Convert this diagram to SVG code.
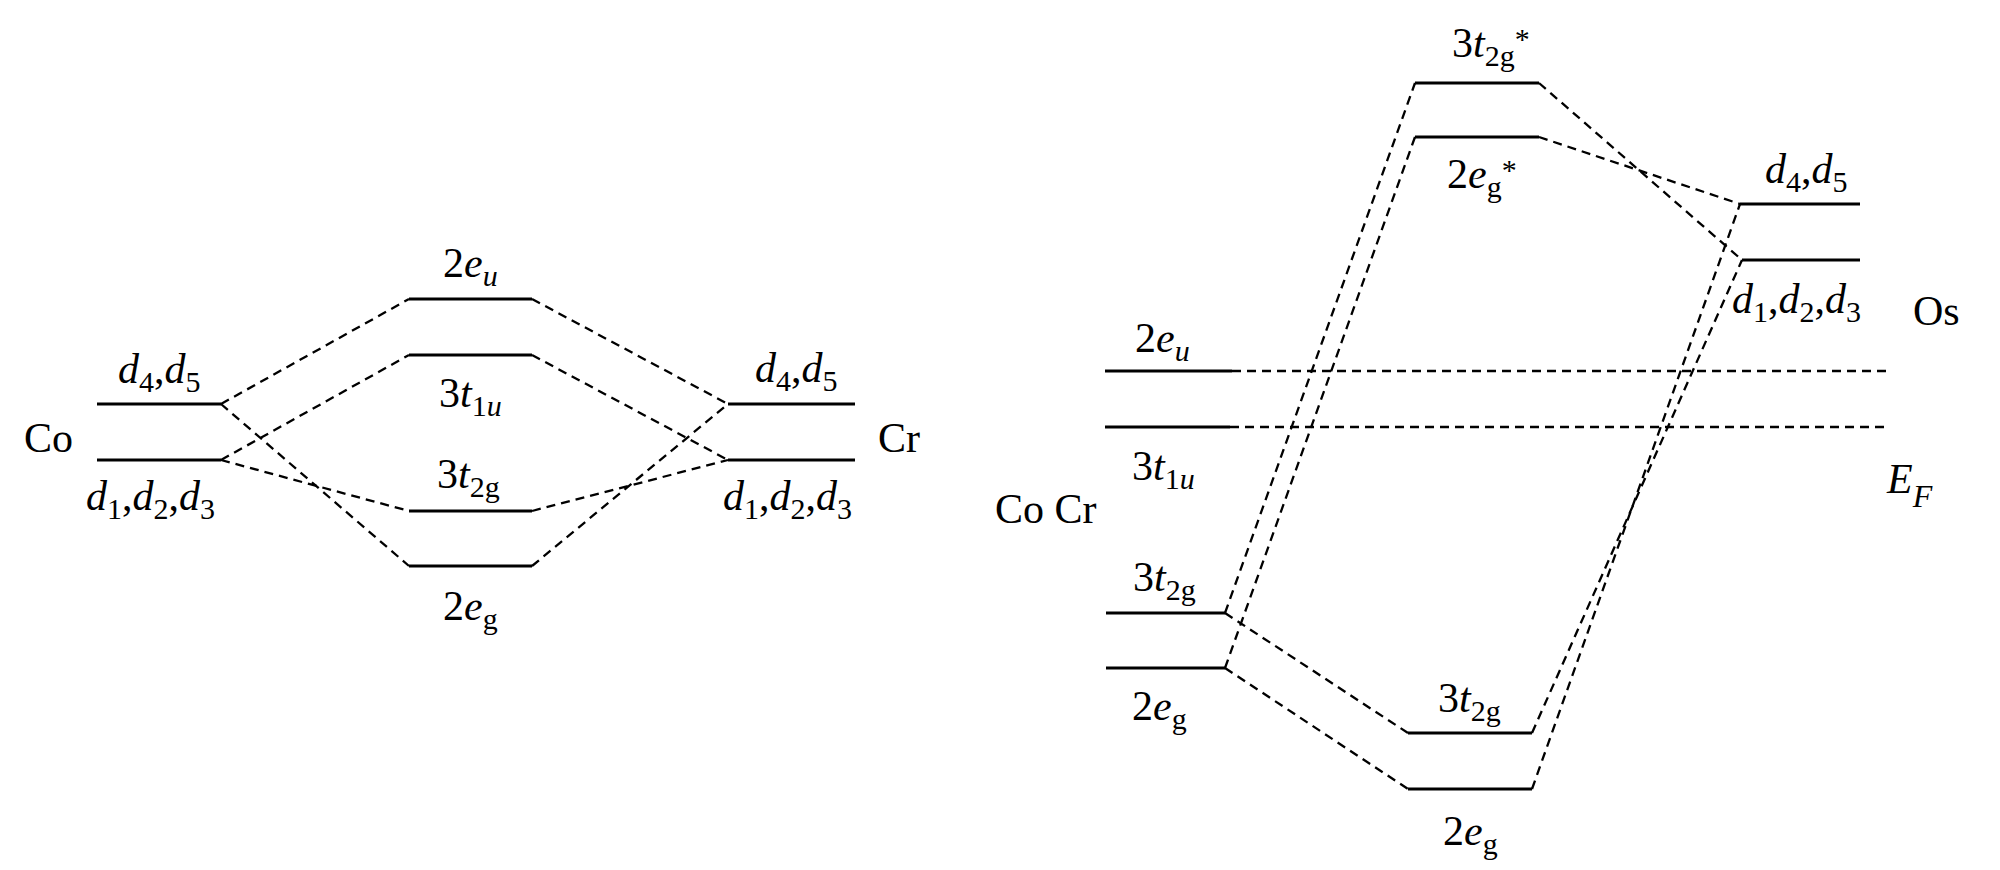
<svg xmlns="http://www.w3.org/2000/svg" width="2000" height="870" viewBox="0 0 2000 870">
<style>
.lvl{stroke:#000;stroke-width:2.8;fill:none}
.con{stroke:#000;stroke-width:2.3;fill:none;stroke-dasharray:9 6}
.t{font-family:"Liberation Serif","Times New Roman",serif;font-size:42px;fill:#000}
.i{font-style:italic}
.s{font-size:30px}
</style>
<rect x="0" y="0" width="2000" height="870" fill="#fff"/>

<!-- Connectors -->
<g id="connectors">
  <line class="con" x1="221" y1="404" x2="409" y2="299"/>
  <line class="con" x1="221" y1="404" x2="409" y2="566"/>
  <line class="con" x1="221" y1="460" x2="409" y2="355"/>
  <line class="con" x1="221" y1="460" x2="409" y2="511"/>
  <line class="con" x1="532" y1="299" x2="728" y2="404"/>
  <line class="con" x1="532" y1="355" x2="728" y2="460"/>
  <line class="con" x1="532" y1="511" x2="728" y2="460"/>
  <line class="con" x1="532" y1="566" x2="728" y2="404"/>

  <line class="con" x1="1232" y1="371" x2="1887" y2="371"/>
  <line class="con" x1="1230" y1="427" x2="1887" y2="427"/>
  <line class="con" x1="1225" y1="613" x2="1415" y2="83"/>
  <line class="con" x1="1225" y1="668" x2="1415" y2="137"/>
  <line class="con" x1="1225" y1="613" x2="1408" y2="733"/>
  <line class="con" x1="1225" y1="668" x2="1408" y2="789"/>
  <line class="con" x1="1539" y1="83" x2="1742" y2="260"/>
  <line class="con" x1="1539" y1="137" x2="1740" y2="204"/>
  <line class="con" x1="1532" y1="733" x2="1742" y2="260"/>
  <line class="con" x1="1532" y1="789" x2="1740" y2="204"/>
</g>

<!-- Left diagram -->
<g id="co">
  <line class="lvl" x1="97" y1="404" x2="221" y2="404"/>
  <line class="lvl" x1="97" y1="460" x2="221" y2="460"/>
  <text class="t" x="24" y="452">Co</text>
  <text class="t" x="118" y="383"><tspan class="i">d</tspan><tspan class="s" dy="9">4</tspan><tspan dy="-9">,</tspan><tspan class="i">d</tspan><tspan class="s" dy="9">5</tspan></text>
  <text class="t" x="86" y="510"><tspan class="i">d</tspan><tspan class="s" dy="9">1</tspan><tspan dy="-9">,</tspan><tspan class="i">d</tspan><tspan class="s" dy="9">2</tspan><tspan dy="-9">,</tspan><tspan class="i">d</tspan><tspan class="s" dy="9">3</tspan></text>
</g>
<g id="l-2eu">
  <line class="lvl" x1="409" y1="299" x2="532" y2="299"/>
  <text class="t" x="443" y="277">2<tspan class="i">e</tspan><tspan class="s i" dy="9">u</tspan></text>
</g>
<g id="l-3t1u">
  <line class="lvl" x1="409" y1="355" x2="532" y2="355"/>
  <text class="t" x="439" y="407">3<tspan class="i">t</tspan><tspan class="s" dy="9">1</tspan><tspan class="s i">u</tspan></text>
</g>
<g id="l-3t2g">
  <line class="lvl" x1="409" y1="511" x2="532" y2="511"/>
  <text class="t" x="437" y="488">3<tspan class="i">t</tspan><tspan class="s" dy="9">2g</tspan></text>
</g>
<g id="l-2eg">
  <line class="lvl" x1="409" y1="566" x2="532" y2="566"/>
  <text class="t" x="443" y="620">2<tspan class="i">e</tspan><tspan class="s" dy="9">g</tspan></text>
</g>
<g id="cr">
  <line class="lvl" x1="728" y1="404" x2="855" y2="404"/>
  <line class="lvl" x1="728" y1="460" x2="855" y2="460"/>
  <text class="t" x="878" y="452">Cr</text>
  <text class="t" x="755" y="382"><tspan class="i">d</tspan><tspan class="s" dy="9">4</tspan><tspan dy="-9">,</tspan><tspan class="i">d</tspan><tspan class="s" dy="9">5</tspan></text>
  <text class="t" x="723" y="510"><tspan class="i">d</tspan><tspan class="s" dy="9">1</tspan><tspan dy="-9">,</tspan><tspan class="i">d</tspan><tspan class="s" dy="9">2</tspan><tspan dy="-9">,</tspan><tspan class="i">d</tspan><tspan class="s" dy="9">3</tspan></text>
</g>

<!-- Right diagram -->
<g id="cocr">
  <text class="t" x="995" y="523">Co Cr</text>
</g>
<g id="r-2eu">
  <line class="lvl" x1="1105" y1="371" x2="1232" y2="371"/>
  <text class="t" x="1135" y="352">2<tspan class="i">e</tspan><tspan class="s i" dy="9">u</tspan></text>
</g>
<g id="r-3t1u">
  <line class="lvl" x1="1105" y1="427" x2="1230" y2="427"/>
  <text class="t" x="1132" y="480">3<tspan class="i">t</tspan><tspan class="s" dy="9">1</tspan><tspan class="s i">u</tspan></text>
</g>
<g id="r-3t2g">
  <line class="lvl" x1="1106" y1="613" x2="1225" y2="613"/>
  <text class="t" x="1133" y="591">3<tspan class="i">t</tspan><tspan class="s" dy="9">2g</tspan></text>
</g>
<g id="r-2eg">
  <line class="lvl" x1="1106" y1="668" x2="1225" y2="668"/>
  <text class="t" x="1132" y="720">2<tspan class="i">e</tspan><tspan class="s" dy="9">g</tspan></text>
</g>
<g id="r-3t2g-star">
  <line class="lvl" x1="1415" y1="83" x2="1539" y2="83"/>
  <text class="t" x="1452" y="57">3<tspan class="i">t</tspan><tspan class="s" dy="9">2g</tspan><tspan class="s" dy="-17">*</tspan></text>
</g>
<g id="r-2eg-star">
  <line class="lvl" x1="1415" y1="137" x2="1539" y2="137"/>
  <text class="t" x="1447" y="188">2<tspan class="i">e</tspan><tspan class="s" dy="9">g</tspan><tspan class="s" dy="-17">*</tspan></text>
</g>
<g id="r-3t2g-bottom">
  <line class="lvl" x1="1408" y1="733" x2="1532" y2="733"/>
  <text class="t" x="1438" y="712">3<tspan class="i">t</tspan><tspan class="s" dy="9">2g</tspan></text>
</g>
<g id="r-2eg-bottom">
  <line class="lvl" x1="1408" y1="789" x2="1532" y2="789"/>
  <text class="t" x="1443" y="845">2<tspan class="i">e</tspan><tspan class="s" dy="9">g</tspan></text>
</g>
<g id="os">
  <line class="lvl" x1="1740" y1="204" x2="1860" y2="204"/>
  <line class="lvl" x1="1742" y1="260" x2="1860" y2="260"/>
  <text class="t" x="1765" y="183"><tspan class="i">d</tspan><tspan class="s" dy="9">4</tspan><tspan dy="-9">,</tspan><tspan class="i">d</tspan><tspan class="s" dy="9">5</tspan></text>
  <text class="t" x="1732" y="313"><tspan class="i">d</tspan><tspan class="s" dy="9">1</tspan><tspan dy="-9">,</tspan><tspan class="i">d</tspan><tspan class="s" dy="9">2</tspan><tspan dy="-9">,</tspan><tspan class="i">d</tspan><tspan class="s" dy="9">3</tspan></text>
  <text class="t" x="1913" y="325">Os</text>
</g>
<g id="ef">
  <text class="t" x="1887" y="493"><tspan class="i">E</tspan><tspan class="i" font-size="32" dy="14">F</tspan></text>
</g>
</svg>
